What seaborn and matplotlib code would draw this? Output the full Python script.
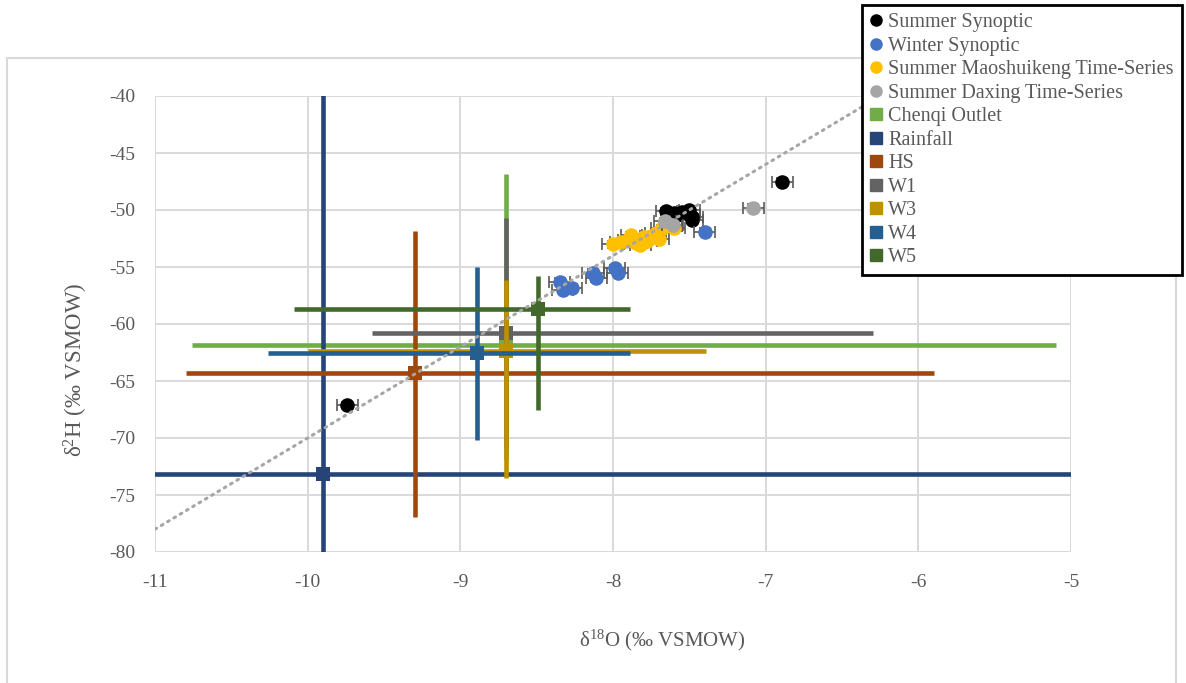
import numpy as np
import matplotlib
matplotlib.use("Agg")
import matplotlib.pyplot as plt
from matplotlib.lines import Line2D
from matplotlib.patches import Rectangle
import seaborn as sns

# ---------------- data ----------------
summer_syn_x = [-9.74, -6.89, -7.65, -7.60, -7.55, -7.50, -7.48, -7.50, -7.58, -7.48]
summer_syn_y = [-67.1, -47.5, -50.1, -50.3, -50.2, -50.0, -50.6, -50.35, -50.4, -50.85]

winter_syn_x = [-7.40, -8.35, -8.33, -8.27, -8.13, -8.11, -7.99, -7.97]
winter_syn_y = [-51.9, -56.3, -57.0, -56.8, -55.5, -56.0, -55.1, -55.5]

maoshui_x = [-8.00, -7.95, -7.90, -7.85, -7.82, -7.80, -7.75, -7.72, -7.70, -7.68, -7.62, -7.60, -7.78, -7.88]
maoshui_y = [-53.0, -52.8, -52.6, -52.9, -53.1, -52.4, -52.3, -52.0, -52.5, -51.6, -51.4, -51.6, -52.7, -52.2]

daxing_x = [-7.08, -7.66, -7.61]
daxing_y = [-49.8, -51.0, -51.3]

point_xerr = 0.07
point_yerr = 0.3

# site means with (minus, plus) ranges
sites = ["Chenqi Outlet", "Rainfall", "HS", "W1", "W3", "W4", "W5"]
site_x = [-8.70, -9.90, -9.30, -8.70, -8.70, -8.89, -8.49]
site_y = [-61.8, -73.2, -64.3, -60.8, -62.4, -62.5, -58.7]
site_xerr_lo = [2.06, 6.0, 1.50, 0.88, 1.30, 1.37, 1.60]
site_xerr_hi = [3.60, 6.0, 3.40, 2.40, 1.31, 1.00, 0.60]
site_yerr_lo = [10.0, 40.0, 12.6, 10.0, 11.1, 7.7, 8.8]
site_yerr_hi = [15.0, 40.0, 12.5, 10.1, 6.3, 7.5, 2.9]

gmwl_x = [-11.0, -6.25]

xticks = [-11, -10, -9, -8, -7, -6, -5]
yticks = [-80, -75, -70, -65, -60, -55, -50, -45, -40]

# ---------------- styling ----------------
point_series = [
    ("Summer Synoptic", summer_syn_x, summer_syn_y, "#000000"),
    ("Winter Synoptic", winter_syn_x, winter_syn_y, "#4472C4"),
    ("Summer Maoshuikeng Time-Series", maoshui_x, maoshui_y, "#FFC000"),
    ("Summer Daxing Time-Series", daxing_x, daxing_y, "#A5A5A5"),
]
site_colors = ["#70AD47", "#264478", "#9E480E", "#636363", "#BF9000", "#255E91", "#43682B"]

sns.set_theme(style="white")
plt.rcParams["font.family"] = ["Liberation Serif", "DejaVu Serif"]
plt.rcParams["mathtext.fontset"] = "custom"
plt.rcParams["mathtext.rm"] = "Liberation Serif"
plt.rcParams["mathtext.it"] = "Liberation Serif:italic"

text_col = "#595959"
fig = plt.figure(figsize=(11.86, 6.83), dpi=100)
ax = fig.add_axes([155 / 1186, 1 - 552 / 683, (1071 - 155) / 1186, (552 - 96) / 683])

# site error bars (big crosses)
for i, name in enumerate(sites):
    ax.errorbar(site_x[i], site_y[i],
                xerr=[[site_xerr_lo[i]], [site_xerr_hi[i]]],
                yerr=[[site_yerr_lo[i]], [site_yerr_hi[i]]],
                fmt="none", ecolor=site_colors[i], elinewidth=3.3, capsize=0, zorder=3 + i * 0.1)
    sns.scatterplot(x=[site_x[i]], y=[site_y[i]], ax=ax, color=site_colors[i], marker="s",
                    s=100, edgecolor=site_colors[i], linewidth=0, zorder=3.05 + i * 0.1, legend=False)

# synoptic / time-series points
for j, (name, xs, ys, col) in enumerate(point_series):
    ax.errorbar(xs, ys, xerr=point_xerr, yerr=point_yerr, fmt="none", ecolor="#595959",
                elinewidth=1.2, capsize=4.5, capthick=1.2, zorder=5 + j * 0.1)
    sns.scatterplot(x=xs, y=ys, ax=ax, color=col, s=110, edgecolor=col, linewidth=0,
                    zorder=5.05 + j * 0.1, legend=False)

# GMWL
gx = np.array(gmwl_x)
ax.plot(gx, 8 * gx + 10, color="#A6A6A6", lw=2.2, linestyle=(0, (0.6, 1.8)),
        dash_capstyle="round", zorder=8)

ax.set_xlim(-11, -5)
ax.set_ylim(-80, -40)
ax.set_xticks(xticks)
ax.set_yticks(yticks)
ax.set_xticklabels([str(t) for t in xticks])
ax.set_yticklabels([str(t) for t in yticks])
ax.tick_params(axis="both", length=0, labelsize=14, colors=text_col)
ax.tick_params(axis="x", pad=16)
ax.tick_params(axis="y", pad=14)
ax.grid(True, color="#D9D9D9", lw=1.4)
ax.set_axisbelow(True)
for s in ax.spines.values():
    s.set_visible(False)

ax.set_xlabel(r"δ$^{\mathregular{18}}$O (‰ VSMOW)", fontsize=15, color=text_col)
ax.xaxis.label.set_va("center")
ax.xaxis.set_label_coords((662 - 155) / 916, -(640 - 552) / 456)
ax.set_ylabel(r"δ$^{\mathregular{2}}$H (‰ VSMOW)", fontsize=16.5, color=text_col)
ax.yaxis.label.set_va("center")
ax.yaxis.set_label_coords((76 - 155) / 916, (552 - 370) / 456)

# outer chart border
fig.add_artist(Rectangle((7 / 1186, -0.01), (1176 - 7) / 1186, 1.01 - 58 / 683,
                         transform=fig.transFigure, fill=False, edgecolor="#D9D9D9", lw=1.5))

# legend
handles = []
labels = []
for name, xs, ys, col in point_series:
    handles.append(Line2D([], [], marker="o", linestyle="", color=col, markersize=8))
    labels.append(name)
for name, col in zip(sites, site_colors):
    handles.append(Line2D([], [], marker="s", linestyle="", color=col, markersize=8))
    labels.append(name)
leg = fig.legend(handles, labels, loc="upper left", bbox_to_anchor=(862 / 1186, 1 - 5 / 683),
                 bbox_transform=fig.transFigure, frameon=True, fancybox=False, fontsize=14.5,
                 borderpad=0.4, handlelength=0.6, handletextpad=0.3, labelspacing=0.22,
                 borderaxespad=0, framealpha=1)
leg.get_frame().set_edgecolor("black")
leg.get_frame().set_linewidth(2)
for t in leg.get_texts():
    t.set_color(text_col)

fig.savefig("out.png", dpi=100, facecolor="white")
